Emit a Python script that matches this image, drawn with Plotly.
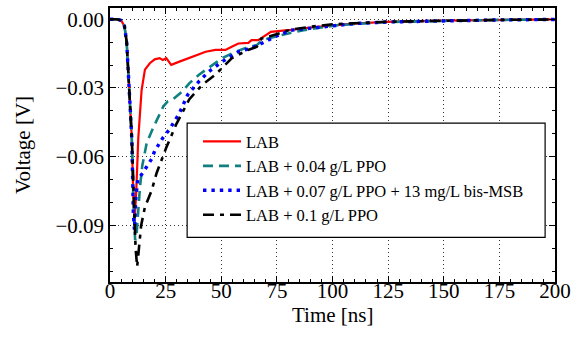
import plotly.graph_objects as go

# ---- data ----
lab_x = [0, 3, 5, 6.5, 7.5, 8.3, 9.1, 9.8, 10.4, 11.0, 11.8, 12.7, 14.2, 15.7, 17.9, 20.1, 22.3, 23.7, 25.3,
         27.5, 31.2, 37, 43, 47.4, 51.9, 54.7, 57.7, 62.2, 63.6, 66.6, 72.3, 79.9, 93, 109.4, 124, 150, 175, 200]
lab_y = [0, 0, -0.0005, -0.003, -0.010, -0.024, -0.038, -0.052, -0.075, -0.089, -0.075, -0.052, -0.031, -0.022,
         -0.0192, -0.0175, -0.017, -0.0178, -0.017, -0.0199, -0.0185, -0.0163, -0.0142, -0.0134, -0.0134, -0.012,
         -0.0106, -0.0103, -0.0091, -0.0091, -0.0055, -0.0048, -0.0033, -0.0019, -0.0012, -0.0006, -0.0003, -0.0001]

ppo04_x = [0, 3, 5, 6.5, 7.5, 8.3, 9.1, 9.8, 10.5, 11.3, 12.0, 12.7, 13.5, 14.5, 16.5, 19.4, 22, 24, 26, 28.2,
           32.6, 35.6, 40, 45.9, 50.4, 56.3, 62, 66, 68, 71, 77, 87, 102, 125, 150, 175, 200]
ppo04_y = [0, 0, -0.0005, -0.003, -0.010, -0.024, -0.038, -0.052, -0.078, -0.0965, -0.093, -0.083, -0.073, -0.064,
           -0.054, -0.0474, -0.042, -0.038, -0.0358, -0.035, -0.0315, -0.028, -0.0242, -0.020, -0.017, -0.0142,
           -0.0122, -0.0113, -0.0095, -0.0084, -0.0069, -0.0048, -0.0026, -0.0012, -0.0006, -0.0003, -0.0001]

msb_x = [0, 3, 5, 6.5, 7.5, 8.3, 9.1, 9.8, 10.5, 11.0, 11.6, 12.5, 14.9, 18.7, 20.1, 23.8, 26.8, 31.2, 34.9, 40,
         44.5, 50.4, 57.7, 60.7, 64, 68, 74, 81.3, 94.5, 110, 125, 150, 175, 200]
msb_y = [0, 0, -0.0005, -0.003, -0.010, -0.024, -0.038, -0.052, -0.085, -0.092, -0.078, -0.070, -0.0668, -0.061,
         -0.0575, -0.0517, -0.048, -0.041, -0.033, -0.0271, -0.0228, -0.0185, -0.0142, -0.0134, -0.0125, -0.0106,
         -0.0077, -0.0048, -0.0033, -0.0019, -0.0012, -0.0006, -0.0003, -0.0001]

ppo10_x = [0, 3, 5, 6.5, 7.5, 8.3, 9.1, 9.8, 10.8, 11.5, 12.2, 13.0, 14.0, 15.7, 18.7, 21, 25.3, 29.7, 35.6, 41.5,
           47.4, 54.8, 62, 66, 68, 74, 81, 90, 100, 125, 150, 175, 200]
ppo10_y = [0, 0, -0.0005, -0.003, -0.010, -0.024, -0.038, -0.052, -0.080, -0.100, -0.108, -0.099, -0.090, -0.082,
           -0.0748, -0.067, -0.056, -0.046, -0.035, -0.0286, -0.0242, -0.017, -0.0134, -0.012, -0.0085, -0.0068,
           -0.0046, -0.0033, -0.0022, -0.0011, -0.0006, -0.0003, -0.0001]

names = ["LAB", "LAB + 0.04 g/L PPO", "LAB + 0.07 g/L PPO + 13 mg/L bis-MSB", "LAB + 0.1 g/L PPO"]
x_ticks = [0, 25, 50, 75, 100, 125, 150, 175, 200]
y_ticks = [0.0, -0.03, -0.06, -0.09]
x_title = "Time [ns]"
y_title = "Voltage [V]"

FONT = "Liberation Serif, Times New Roman, serif"

fig = go.Figure()
fig.add_trace(go.Scatter(x=lab_x, y=lab_y, mode="lines", name=names[0],
                         line=dict(color="#ff0000", width=2.2)))
fig.add_trace(go.Scatter(x=ppo04_x, y=ppo04_y, mode="lines", name=names[1],
                         line=dict(color="#108080", width=2.6, dash="10px,6px")))
fig.add_trace(go.Scatter(x=msb_x, y=msb_y, mode="lines", name=names[2],
                         line=dict(color="#0000ff", width=3.4, dash="3.4px,5px")))
fig.add_trace(go.Scatter(x=ppo10_x, y=ppo10_y, mode="lines", name=names[3],
                         line=dict(color="#000000", width=2.6, dash="11px,6px,4px,6px")))

axis_common = dict(
    showline=True, linecolor="black", linewidth=1.5, mirror="allticks",
    ticks="inside", ticklen=6, tickwidth=1, tickcolor="black",
    showgrid=True, gridcolor="#333333", gridwidth=1, griddash="1px,3px",
    zeroline=False,
    tickfont=dict(family=FONT, size=21, color="black"),
)

fig.update_xaxes(range=[0, 200], tickvals=x_ticks, ticklabelstandoff=-11,
                 minor=dict(dtick=5, tick0=0, ticks="inside", ticklen=3, tickcolor="black", showgrid=False),
                 **axis_common)
fig.update_yaxes(range=[-0.1147, 0.0049], tickvals=y_ticks, tickformat=".2f",
                 minor=dict(dtick=0.01, tick0=0, ticks="inside", ticklen=3, tickcolor="black", showgrid=False),
                 title=dict(text=y_title, font=dict(family=FONT, size=21, color="black"), standoff=19),
                 **axis_common)

# x-axis title placed as paper text just under the tick labels
fig.add_annotation(text=x_title, xref="paper", yref="paper", x=0.5, y=-33 / 276,
                   xanchor="center", yanchor="middle", showarrow=False,
                   font=dict(family=FONT, size=21, color="black"))

# legend frame
fig.add_shape(type="rect", xref="paper", yref="paper",
              x0=(188 - 110) / 450, x1=(550 - 110) / 450, y0=(282 - 237) / 276, y1=(282 - 122) / 276,
              line=dict(color="black", width=1.2), fillcolor="white", layer="above")

fig.update_layout(
    width=577, height=345,
    margin=dict(l=110, r=17, t=6, b=63),
    paper_bgcolor="white", plot_bgcolor="white",
    showlegend=True,
    legend=dict(x=(199 - 110) / 450, y=(282 - 123) / 276, xanchor="left", yanchor="top",
                bgcolor="rgba(0,0,0,0)", borderwidth=0,
                font=dict(family=FONT, size=16.5, color="black"),
                itemwidth=38, tracegroupgap=0),
    font=dict(family=FONT, color="black"),
)

fig.write_html("out.html")
